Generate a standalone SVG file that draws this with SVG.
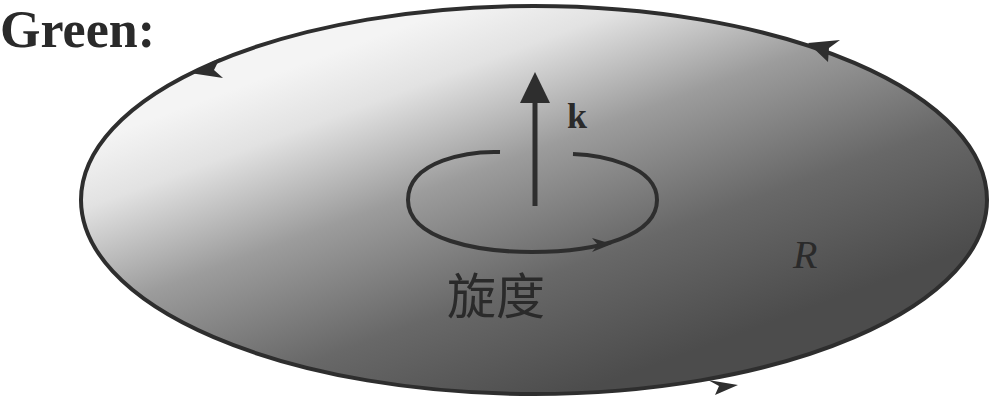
<svg xmlns="http://www.w3.org/2000/svg" width="989" height="404" viewBox="0 0 989 404">
<defs>
<linearGradient id="g" gradientUnits="userSpaceOnUse" x1="420" y1="20" x2="560" y2="400">
<stop offset="0" stop-color="#f4f4f4"/>
<stop offset="0.15" stop-color="#e2e2e2"/>
<stop offset="0.4" stop-color="#9c9c9c"/>
<stop offset="0.7" stop-color="#686868"/>
<stop offset="1" stop-color="#4c4c4c"/>
</linearGradient>
<style>
.edge{fill:none;stroke:#2e2e2e;stroke-width:4}
.head{fill:#2e2e2e}
.lbl{font-family:"Liberation Serif","Noto Sans CJK SC",serif;fill:#2a2a2a}
</style>
</defs>
<rect width="989" height="404" fill="#fff"/>
<g id="region">
<ellipse cx="534" cy="200" rx="453" ry="194" fill="url(#g)" stroke="#2e2e2e" stroke-width="4"/>
<polygon class="head" points="190,73 220,58 214,70 223,78"/>
<polygon class="head" points="808,43 840,40 829,48 828,62"/>
<polygon class="head" points="738,385 708,380 719,386 715,395"/>
<text class="lbl" x="793" y="268" font-size="40" font-style="italic" fill="#3a3a3a">R</text>
</g>
<g id="title">
<text class="lbl" x="0" y="47" font-size="52" font-weight="bold" fill="#333">Green:</text>
</g>
<g id="curl">
<path class="edge" d="M500,152 C470,151 408,160 408,200 C408,240 480,252 532,252 C600,252 657,235 657,200 C657,165 600,155 573,154"/>
<polygon class="head" points="612,244 592,238 598,245 592,252"/>
<text class="lbl" x="447" y="314" font-size="49" fill="#3c3c3c">旋度</text>
</g>
<g id="connectors">
<line x1="535" y1="206" x2="535" y2="95" stroke="#2e2e2e" stroke-width="5"/>
<polygon class="head" points="535,72 520,103 550,103"/>
<text class="lbl" x="567" y="128" font-size="36" font-weight="bold" fill="#222">k</text>
</g>
</svg>
